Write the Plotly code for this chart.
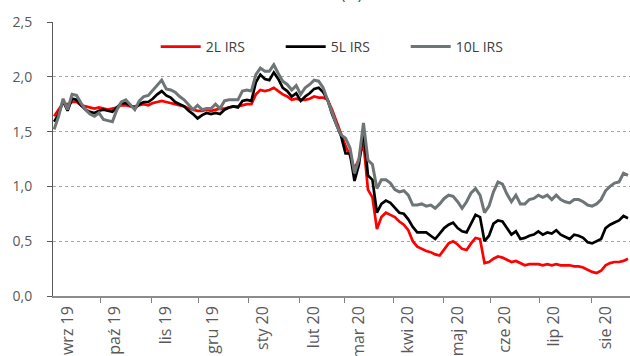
import pandas as pd
import plotly.graph_objects as go

# Polish IRS swap rates, sampled every second business day from 2 Sep 2019
START_DATE = "2019-09-02"
N_BUSINESS_DAYS = 257

month_labels = ["wrz 19", "paź 19", "lis 19", "gru 19", "sty 20", "lut 20",
                "mar 20", "kwi 20", "maj 20", "cze 20", "lip 20", "sie 20"]

irs_2y = [
    1.64, 1.70, 1.76, 1.75, 1.77, 1.77, 1.74, 1.73, 1.72, 1.71,
    1.72, 1.71, 1.70, 1.71, 1.72, 1.74, 1.74, 1.73, 1.73, 1.74,
    1.75, 1.74, 1.76, 1.77, 1.78, 1.77, 1.76, 1.75, 1.74, 1.73,
    1.71, 1.70, 1.69, 1.69, 1.70, 1.69, 1.70, 1.71, 1.71, 1.72,
    1.73, 1.73, 1.74, 1.75, 1.75, 1.84, 1.88, 1.87, 1.88, 1.90,
    1.87, 1.84, 1.82, 1.79, 1.80, 1.79, 1.79, 1.80, 1.82, 1.81,
    1.81, 1.79, 1.70, 1.58, 1.48, 1.37, 1.28, 1.16, 1.25, 1.40,
    0.97, 0.90, 0.61, 0.72, 0.76, 0.74, 0.72, 0.68, 0.65, 0.60,
    0.50, 0.45, 0.43, 0.41, 0.40, 0.38, 0.37, 0.42, 0.48, 0.50,
    0.47, 0.43, 0.42, 0.48, 0.53, 0.52, 0.30, 0.31, 0.34, 0.36,
    0.35, 0.33, 0.31, 0.32, 0.30, 0.28, 0.29, 0.29, 0.29, 0.28,
    0.29, 0.28, 0.29, 0.28, 0.28, 0.28, 0.27, 0.27, 0.26, 0.24,
    0.22, 0.21, 0.23, 0.28, 0.30, 0.31, 0.31, 0.32, 0.34,
]

irs_5y = [
    1.59, 1.66, 1.78, 1.69, 1.80, 1.79, 1.74, 1.70, 1.68, 1.67,
    1.69, 1.70, 1.69, 1.68, 1.72, 1.76, 1.76, 1.74, 1.71, 1.75,
    1.77, 1.77, 1.80, 1.84, 1.87, 1.83, 1.81, 1.77, 1.75, 1.73,
    1.69, 1.66, 1.62, 1.65, 1.67, 1.66, 1.67, 1.66, 1.70, 1.72,
    1.73, 1.72, 1.78, 1.79, 1.78, 1.95, 2.02, 1.98, 1.97, 2.04,
    1.98, 1.90, 1.87, 1.82, 1.85, 1.78, 1.82, 1.85, 1.89, 1.90,
    1.86, 1.79, 1.66, 1.56, 1.46, 1.30, 1.30, 1.05, 1.20, 1.52,
    1.10, 1.06, 0.76, 0.84, 0.87, 0.85, 0.80, 0.76, 0.75, 0.70,
    0.63, 0.58, 0.58, 0.58, 0.55, 0.52, 0.57, 0.62, 0.65, 0.67,
    0.62, 0.59, 0.58, 0.66, 0.74, 0.72, 0.50, 0.55, 0.66, 0.69,
    0.68, 0.62, 0.56, 0.59, 0.52, 0.53, 0.55, 0.56, 0.59, 0.56,
    0.58, 0.57, 0.60, 0.56, 0.54, 0.52, 0.56, 0.55, 0.53, 0.49,
    0.48, 0.50, 0.52, 0.62, 0.65, 0.67, 0.69, 0.73, 0.71,
]

irs_10y = [
    1.52, 1.64, 1.80, 1.70, 1.84, 1.83, 1.76, 1.70, 1.66, 1.64,
    1.67, 1.61, 1.60, 1.59, 1.70, 1.77, 1.79, 1.74, 1.70, 1.78,
    1.82, 1.83, 1.88, 1.93, 1.97, 1.89, 1.88, 1.86, 1.82, 1.79,
    1.74, 1.70, 1.74, 1.70, 1.71, 1.71, 1.75, 1.71, 1.78, 1.79,
    1.79, 1.79, 1.87, 1.88, 1.87, 2.02, 2.08, 2.05, 2.05, 2.11,
    2.03, 1.96, 1.93, 1.88, 1.92, 1.84, 1.90, 1.93, 1.97, 1.96,
    1.90, 1.79, 1.66, 1.56, 1.47, 1.44, 1.35, 1.12, 1.25, 1.58,
    1.24, 1.20, 0.98, 1.06, 1.06, 1.03, 0.97, 0.95, 0.96, 0.92,
    0.83, 0.83, 0.84, 0.82, 0.83, 0.80, 0.84, 0.89, 0.92, 0.91,
    0.86, 0.80, 0.86, 0.94, 0.98, 0.92, 0.76, 0.82, 0.95, 1.04,
    1.02, 0.93, 0.86, 0.92, 0.84, 0.84, 0.88, 0.89, 0.92, 0.90,
    0.92, 0.88, 0.92, 0.88, 0.86, 0.85, 0.88, 0.88, 0.86, 0.83,
    0.82, 0.84, 0.88, 0.96, 1.00, 1.03, 1.04, 1.12, 1.10,
]

y_ticks = [0.0, 0.5, 1.0, 1.5, 2.0, 2.5]

# business-day calendar -> positions on a continuous category-like axis
days = pd.bdate_range(START_DATE, periods=N_BUSINESS_DAYS)
sample_dates = days[::2][:len(irs_2y)]
x_pos = list(days.get_indexer(sample_dates))

month_starts = pd.date_range("2019-09-01", periods=len(month_labels), freq="MS")
boundaries = [float(days.searchsorted(m)) - 0.5 for m in month_starts]
label_pos = [b + 6.4 for b in boundaries]

series = [
    ("2L IRS", irs_2y, "#FF0000", 2.7),
    ("5L IRS", irs_5y, "#000000", 2.7),
    ("10L IRS", irs_10y, "#6E7577", 3.0),
]

fig = go.Figure()
for name, vals, color, width in series:
    fig.add_trace(go.Scatter(
        x=x_pos, y=vals, mode="lines", name=name,
        customdata=[d.strftime("%Y-%m-%d") for d in sample_dates],
        line=dict(color=color, width=width),
        hovertemplate="%{customdata}: %{y:.2f}<extra>" + name + "</extra>",
    ))

font_family = "Open Sans"

fig.update_layout(
    width=630, height=356,
    margin=dict(l=53, r=0, t=22, b=60, pad=0, autoexpand=False),
    paper_bgcolor="white", plot_bgcolor="white",
    separators=", ",
    font=dict(family=font_family, color="#595959"),
    showlegend=True,
    legend=dict(
        orientation="h", x=0.178, xanchor="left", y=0.909, yanchor="middle",
        font=dict(size=14, color="#404040", family=font_family),
        itemwidth=40, entrywidth=70, entrywidthmode="pixels",
        bgcolor="rgba(0,0,0,0)", itemclick=False, itemdoubleclick=False,
    ),
    annotations=[dict(
        text="(%)", xref="paper", yref="paper", x=0.518, y=(296 - 5) / 274,
        xanchor="center", yanchor="bottom", showarrow=False,
        font=dict(size=15, color="#404040", family=font_family),
    )],
)

fig.update_xaxes(
    range=[-0.5, 256.9], showgrid=False, zeroline=False, automargin=False,
    showline=True, linecolor="#8C8C8C", linewidth=1.5,
    tickmode="array", tickvals=label_pos, ticktext=month_labels,
    ticks="", tickangle=-90, ticklabelstandoff=2,
    tickfont=dict(size=16, color="#595959", family=font_family),
    minor=dict(tickmode="array", tickvals=boundaries[1:], ticks="outside",
               ticklen=5, tickwidth=1, tickcolor="#7F7F7F", showgrid=False),
)

fig.update_yaxes(
    range=[0, 2.5], tickmode="array", tickvals=y_ticks, tickformat=".1f",
    automargin=False,
    showline=True, linecolor="#595959", linewidth=1,
    ticks="outside", ticklen=5, tickcolor="#595959", ticklabelstandoff=12,
    showgrid=True, gridcolor="#A6A6A6", griddash="dot", gridwidth=1,
    zeroline=False,
    tickfont=dict(size=14, color="#595959", family=font_family),
)

fig.write_html("out.html")
